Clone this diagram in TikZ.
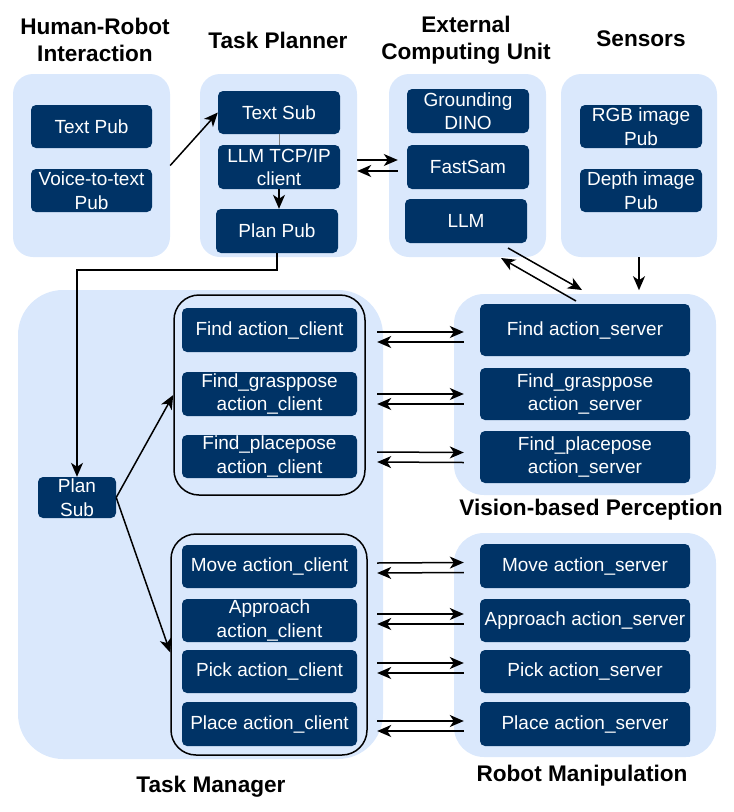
\documentclass[tikz,border=0pt]{standalone}
\usepackage{fontspec}
\setmainfont{Liberation Sans}
\usetikzlibrary{arrows.meta}
\definecolor{navy}{HTML}{003366}
\definecolor{lightblue}{HTML}{DAE8FC}
\tikzset{
  grp/.style={fill=lightblue, draw=none, rounded corners=20pt, inner sep=0pt},
  inner/.style={draw=black, line width=1.5pt, rounded corners=25pt, inner sep=0pt},
  dbox/.style={fill=navy, draw=none, rounded corners=5pt, text=white, align=center,
    inner xsep=2pt, inner ysep=0pt, font=\fontsize{19}{23.5}\selectfont},
  ttl/.style={align=center, font=\fontsize{22.6}{27}\selectfont\bfseries},
  arr/.style={-{Stealth[length=14pt,width=12pt,inset=4pt]}, line width=1.5pt},
}
\begin{document}
\begin{tikzpicture}[x=1pt,y=-1pt]
\useasboundingbox (0,0) rectangle (734,812);
% groups
\node[grp, minimum width=157pt, minimum height=183pt] (hri) at (91.5,165.5) {};
\node[grp, minimum width=157pt, minimum height=183pt] (tp) at (278.5,165.5) {};
\node[grp, minimum width=157pt, minimum height=183pt] (ecu) at (467.5,165.5) {};
\node[grp, minimum width=156pt, minimum height=183pt] (sen) at (639,165.5) {};
\node[grp, rounded corners=45pt, minimum width=365pt, minimum height=469pt] (tm) at (200.5,524.5) {};
\node[grp, rounded corners=30pt, minimum width=262pt, minimum height=201pt] (vis) at (585,394.5) {};
\node[grp, rounded corners=30pt, minimum width=262pt, minimum height=224pt] (rm) at (585,645) {};
\node[inner, minimum width=191pt, minimum height=200pt] (in1) at (269.5,395) {};
\node[inner, minimum width=196pt, minimum height=221pt] (in2) at (269,644.5) {};
% titles
\node[ttl] (thri) at (95,39.5) {Human-Robot\\Interaction};
\node[ttl] (ttp) at (278,40) {Task Planner};
\node[ttl] (tecu) at (466,40) {External\\Computing Unit};
\node[ttl] (tsen) at (641,39) {Sensors};
\node[ttl] (tvis) at (591,510) {Vision-based Perception};
\node[ttl] (ttm) at (211,787) {Task Manager};
\node[ttl] (trm) at (582,776) {Robot Manipulation};
% top boxes
\node[dbox, minimum width=121pt, minimum height=43pt] (textpub) at (91.5,126.5) {Text Pub};
\node[dbox, minimum width=121pt, minimum height=43pt] (voice) at (91.5,190.5) {Voice-to-text\\Pub};
\node[dbox, minimum width=122pt, minimum height=43pt] (textsub) at (279,112.5) {Text Sub};
\node[dbox, minimum width=122pt, minimum height=44pt] (llmc) at (279,167) {LLM TCP/IP\\client};
\node[dbox, minimum width=122pt, minimum height=44pt] (planpub) at (277,231) {Plan Pub};
\node[dbox, minimum width=122pt, minimum height=44pt] (gdino) at (468,111) {Grounding\\DINO};
\node[dbox, minimum width=122pt, minimum height=44pt] (fastsam) at (468,167) {FastSam};
\node[dbox, minimum width=122pt, minimum height=44pt] (llm) at (466,221) {LLM};
\node[dbox, minimum width=122pt, minimum height=43pt] (rgb) at (641,126.5) {RGB image\\Pub};
\node[dbox, minimum width=122pt, minimum height=43pt] (depth) at (641,190.5) {Depth image\\Pub};
% task manager
\node[dbox, minimum width=78pt, minimum height=41pt] (plansub) at (77,497.5) {Plan\\Sub};
\node[dbox, minimum width=175pt, minimum height=44pt] (fac) at (269.5,330) {Find action\_client};
\node[dbox, minimum width=175pt, minimum height=44pt] (fgc) at (269.5,394) {Find\_grasppose\\action\_client};
\node[dbox, minimum width=175pt, minimum height=43pt] (fpc) at (269.5,456.5) {Find\_placepose\\action\_client};
\node[dbox, minimum width=175pt, minimum height=43pt] (mac) at (269.5,566.5) {Move action\_client};
\node[dbox, minimum width=175pt, minimum height=43pt] (aac) at (269.5,620.5) {Approach\\action\_client};
\node[dbox, minimum width=175pt, minimum height=43pt] (pac) at (269.5,671.5) {Pick action\_client};
\node[dbox, minimum width=175pt, minimum height=44pt] (plc) at (269.5,724) {Place action\_client};
% servers
\node[dbox, minimum width=210pt, minimum height=52pt] (fas) at (585,330) {Find action\_server};
\node[dbox, minimum width=210pt, minimum height=52pt] (fgs) at (585,394) {Find\_grasppose\\action\_server};
\node[dbox, minimum width=210pt, minimum height=52pt] (fps) at (585,457) {Find\_placepose\\action\_server};
\node[dbox, minimum width=210pt, minimum height=44pt] (mas) at (585,566) {Move action\_server};
\node[dbox, minimum width=210pt, minimum height=43pt] (aas) at (585,620.5) {Approach action\_server};
\node[dbox, minimum width=210pt, minimum height=43pt] (pas) at (585,671.5) {Pick action\_server};
\node[dbox, minimum width=210pt, minimum height=44pt] (pls) at (585,724) {Place action\_server};
% connectors top
\draw[arr] (hri.east) -- (textsub.west);
\draw[gray, line width=1pt] (textsub.south) -- (llmc.north);
\draw[arr] (llmc.south) -- (llmc.south |- planpub.north);
\draw[arr] (planpub.south) -- ++(0,17) -| (plansub.north);
\coordinate (a1) at ([xshift=-9pt,yshift=7pt]fastsam.west);
\coordinate (a2) at ([xshift=-9pt,yshift=-4pt]fastsam.west);
\draw[arr] (tp.east |- a1) -- (a1);
\draw[arr] (a2) -- (tp.east |- a2);
\coordinate (d1s) at (508,248);
\coordinate (d1e) at (582,290);
\coordinate (d2s) at (576,301);
\coordinate (d2e) at (501,258);
\draw[arr] (d1s) -- (d1e);
\draw[arr] (d2s) -- (d2e);
\draw[arr] (sen.south) -- ++(0,33);
% plan sub fan-out
\draw[arr] (plansub.east) -- (in1.west);
\draw[arr] (plansub.east) -- ([yshift=-8pt]in2.west);
% client-server pairs
\foreach \c/\s/\u/\d in {fac/fas/-2/-12, fgc/fgs/0/-10, fpc/fps/4.5/-5.5,
  mac/mas/3.5/-6.5, aac/aas/6.5/-3.5, pac/pas/8.5/-1.5, plc/pls/3/-7}{
  \draw[arr] ([xshift=20pt,yshift=\u pt]\c.east) -- ([xshift=-16pt,yshift=\u pt]\s.west);
  \draw[arr] ([xshift=-16pt,yshift=\d pt]\s.west) -- ([xshift=20pt,yshift=\d pt]\c.east);
}
\end{tikzpicture}
\end{document}
